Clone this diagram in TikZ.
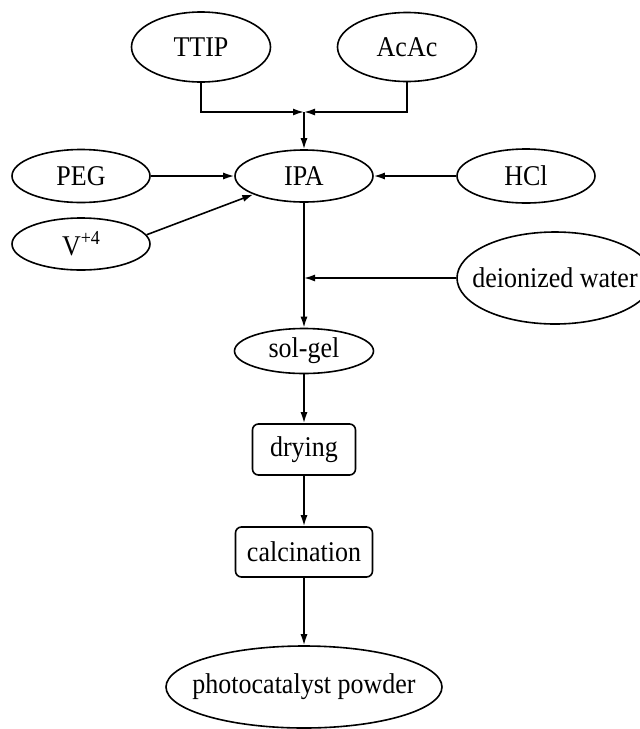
\documentclass[tikz,border=0pt]{standalone}
\usepackage{graphicx}
\usepackage{fontspec}
\setmainfont{Liberation Serif}
\usetikzlibrary{shapes.geometric,arrows.meta}
\newcommand{\tall}[1]{\scalebox{1}[1.1]{#1}}
\newcommand{\zw}[1]{\makebox[0pt]{\tall{#1}}}
\begin{document}
\begin{tikzpicture}[x=1pt,y=-1pt,
  font=\fontsize{26}{30}\selectfont,
  ell/.style={ellipse,draw,line width=1.6pt,inner sep=0pt},
  rbox/.style={draw,rounded corners=6pt,line width=1.6pt,inner sep=0pt},
  arr/.style={line width=1.6pt,-{Latex[length=11pt,width=7pt]}}]
\useasboundingbox (0,0) rectangle (640,729);
\node[ell,minimum width=139pt,minimum height=70pt] (TTIP) at (201,47) {\zw{TTIP}};
\node[ell,minimum width=139pt,minimum height=69pt] (AcAc) at (407,47) {\zw{AcAc}};
\node[ell,minimum width=138pt,minimum height=53pt] (PEG) at (81,176) {\zw{PEG}};
\node[ell,minimum width=138pt,minimum height=52pt] (IPA) at (304,176) {\zw{IPA}};
\node[ell,minimum width=138pt,minimum height=54pt] (HCl) at (526,176) {\zw{HCl}};
\node[ell,minimum width=138pt,minimum height=52pt] (V) at (81,244) {\zw{V\raisebox{0.85ex}{\fontsize{18}{20}\selectfont +4}}};
\node[ell,minimum width=196pt,minimum height=92pt] (DW) at (555,278) {\zw{deionized water}};
\node[ell,minimum width=139pt,minimum height=45pt] (SG) at (304,351) {\zw{sol-gel}};
\node[rbox,minimum width=103pt,minimum height=51pt] (DR) at (304,449.5) {\tall{drying}};
\node[rbox,minimum width=137pt,minimum height=50pt] (CA) at (304,552) {\tall{calcination}};
\node[ell,minimum width=276pt,minimum height=82pt] (PH) at (304,687) {\zw{photocatalyst powder}};
\coordinate (J) at (304,112);
\draw[arr] (TTIP.south) |- (J);
\draw[arr] (AcAc.south) |- (J);
\draw[arr] (J) -- (IPA.north);
\draw[arr] (PEG.east) -- (IPA.west);
\draw[arr] (HCl.west) -- (IPA.east);
\draw[arr] (V.8) -- (IPA.200);
\draw[arr] (IPA.south) -- (SG.north);
\draw[arr] (DW.west) -- (DW.west -| IPA.south);
\draw[arr] (SG.south) -- (DR.north);
\draw[arr] (DR.south) -- (CA.north);
\draw[arr] (CA.south) -- (PH.north);
\end{tikzpicture}
\end{document}
